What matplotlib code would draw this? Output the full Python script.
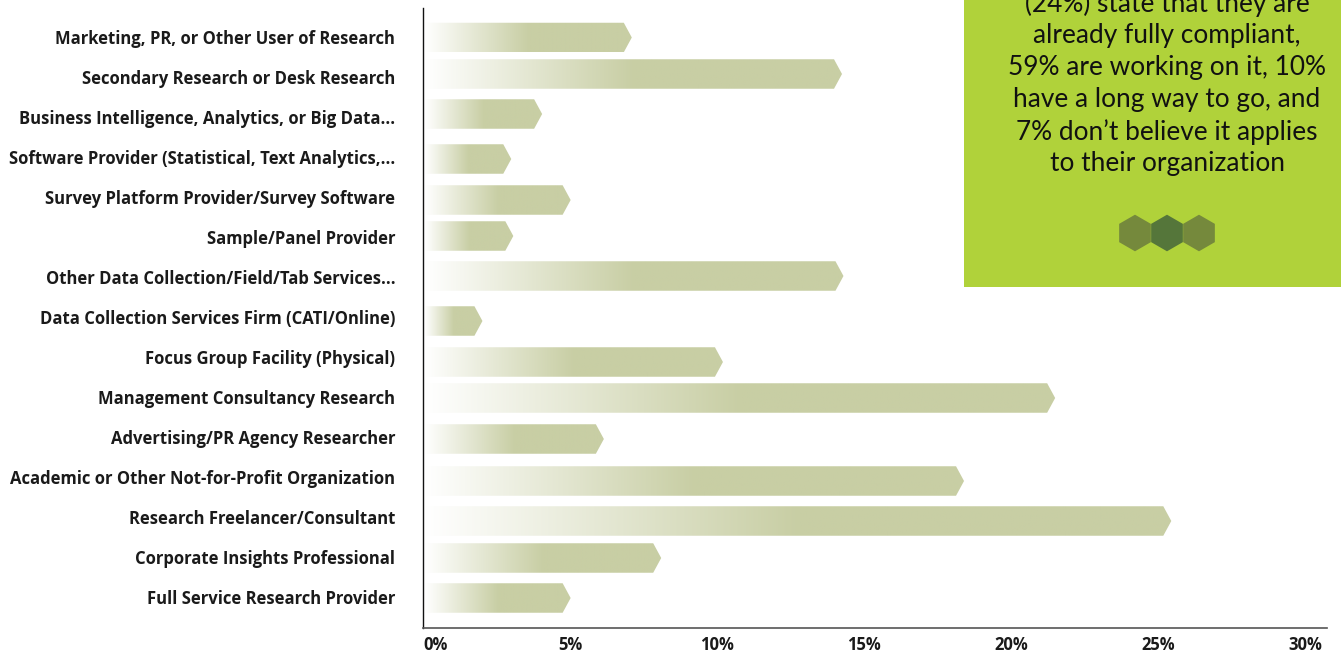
import numpy as np
import matplotlib
matplotlib.use("Agg")
import matplotlib.pyplot as plt
from matplotlib.colors import LinearSegmentedColormap
from matplotlib.patches import Polygon, Rectangle, RegularPolygon
from matplotlib.transforms import ScaledTranslation

# values, top row first
categories = [
    "Marketing, PR, or Other User of Research",
    "Secondary Research or Desk Research",
    "Business Intelligence, Analytics, or Big Data...",
    "Software Provider (Statistical, Text Analytics,...",
    "Survey Platform Provider/Survey Software",
    "Sample/Panel Provider",
    "Other Data Collection/Field/Tab Services...",
    "Data Collection Services Firm (CATI/Online)",
    "Focus Group Facility (Physical)",
    "Management Consultancy Research",
    "Advertising/PR Agency Researcher",
    "Academic or Other Not-for-Profit Organization",
    "Research Freelancer/Consultant",
    "Corporate Insights Professional",
    "Full Service Research Provider",
]
values = [6.83, 13.98, 3.78, 2.73, 4.75, 2.8, 14.03, 1.75, 9.93, 21.23, 5.88, 18.13, 25.18, 7.83, 4.75]
tick_values = [0, 5, 10, 15, 20, 25, 30]
tick_labels = ["0%", "5%", "10%", "15%", "20%", "25%", "30%"]
callout_lines = [
    "(24%) state that they are",
    "already fully compliant,",
    "59% are working on it, 10%",
    "have a long way to go, and",
    "7% don\u2019t believe it applies",
    "to their organization",
]

# layout in pixels of the 1341x652 picture
W, H = 1341, 652
PX_PER_PCT = 29.4
ROW_STEP = 40
FIRST_ROW = 37
bar_nudge = [0.5, -3, -3, 2, 3, -1, -1, 4, 5, 1, 2, 4, 4, 1, 1]
BAR_H = 29.5
TIP = 8

plt.rcParams["font.family"] = ["Lato", "DejaVu Sans"]
fig = plt.figure(figsize=(W / 100, H / 100), dpi=100)
ax = fig.add_axes([423 / W, 1 - 628 / H, 904 / W, 620 / H])
ax.set_xlim(0, 904 / PX_PER_PCT)
ax.set_ylim((628 - FIRST_ROW) / ROW_STEP, (8 - FIRST_ROW) / ROW_STEP)

cmap = LinearSegmentedColormap.from_list("fade", ["#ffffff", "#c8cea4"])
tip_w = TIP / PX_PER_PCT
half = BAR_H / 2 / ROW_STEP
start = 1.5 / PX_PER_PCT
for i, (val, nudge) in enumerate(zip(values, bar_nudge)):
    yc = i + nudge / ROW_STEP
    grad = np.clip(np.linspace(0, 2, 256), 0, 1).reshape(1, -1)
    im = ax.imshow(grad, cmap=cmap, aspect="auto", vmin=0, vmax=1,
                   extent=[start, val + tip_w, yc + half, yc - half], zorder=2)
    shape = Polygon([(start, yc - half), (val, yc - half), (val + tip_w, yc),
                     (val, yc + half), (start, yc + half)],
                    closed=True, transform=ax.transData)
    im.set_clip_path(shape)
ax.set_xlim(0, 904 / PX_PER_PCT)
ax.set_ylim((628 - FIRST_ROW) / ROW_STEP, (8 - FIRST_ROW) / ROW_STEP)

for side in ["top", "right"]:
    ax.spines[side].set_visible(False)
ax.spines["left"].set_color("#111111")
ax.spines["left"].set_linewidth(1.0)
ax.spines["bottom"].set_color("#555555")
ax.spines["bottom"].set_linewidth(1.2)

ax.set_yticks(range(len(categories)))
ax.set_yticklabels(categories, fontsize=12.0, fontweight="bold", color="#1a1a1a",
                   family=["Open Sans", "DejaVu Sans"])
ax.set_xticks(tick_values)
ax.set_xticklabels(tick_labels, fontsize=12.0, fontweight="bold", color="#1a1a1a",
                   family=["Open Sans", "DejaVu Sans"])
ax.tick_params(axis="y", length=0, pad=20)
ax.tick_params(axis="x", length=0, pad=6)
# the 0% label sits right of the axis in the original
first = ax.get_xticklabels()[0]
first.set_transform(first.get_transform() + ScaledTranslation(13 / 100, 0, fig.dpi_scale_trans))

# green callout
fig.add_artist(Rectangle((964 / W, 1 - 287 / H), 377 / W, 287 / H, transform=fig.transFigure,
                         facecolor="#b0d23a", edgecolor="none", zorder=5))
for n, line in enumerate(callout_lines):
    fig.text(1167 / W, 1 - (4 + 32 * n) / H, line, ha="center", va="center",
             fontsize=18.9, color="#111111", zorder=6)

# hexagons are drawn in pixel space, y measured from the bottom
for cx, col, z in [(1135, "#75893c", 6), (1199, "#75893c", 6), (1167, "#55763a", 7)]:
    fig.add_artist(RegularPolygon((cx, H - 233), 6, radius=18.3, orientation=0,
                                  facecolor=col, edgecolor="none", zorder=z,
                                  transform=None))

fig.savefig("out.png", dpi=100, facecolor="white")
